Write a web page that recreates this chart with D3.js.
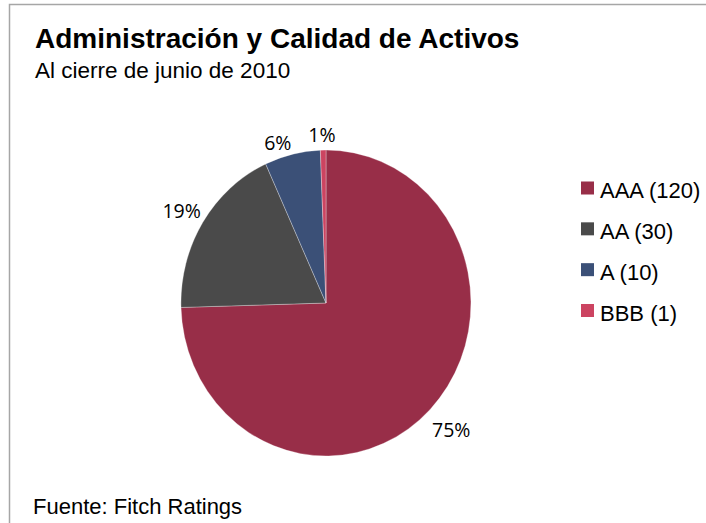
<!DOCTYPE html>
<html>
<head>
<meta charset="utf-8">
<script src="https://cdn.jsdelivr.net/npm/d3@7"></script>
<style>
  html, body { margin: 0; padding: 0; background: #fff; }
  svg { display: block; }
</style>
</head>
<body>
<svg></svg>
<script>
// data
const ratings = ["AAA", "AA", "A", "BBB"];
const counts = [120, 30, 10, 1];
const colors = ["#982e48", "#4a4a4a", "#3b5077", "#cc4461"];
const title = "Administración y Calidad de Activos";
const subtitle = "Al cierre de junio de 2010";
const source = "Fuente: Fitch Ratings";

const W = 706, H = 523;
const svg = d3.select("svg").attr("width", W).attr("height", H);
const ARIAL = "'Liberation Sans', Arial, sans-serif";

// frame (runs off the right and bottom edges)
svg.append("rect").attr("x", 9.5).attr("y", 4.5).attr("width", 760).attr("height", 560)
  .attr("fill", "none").attr("stroke", "#a6a6a6").attr("stroke-width", 1.5);

const addText = (x, y, txt, size, weight, family) =>
  svg.append("text").attr("x", x).attr("y", y)
    .attr("font-family", family || ARIAL)
    .attr("font-size", size).attr("font-weight", weight || "normal")
    .attr("fill", "#000").text(txt);

addText(35, 48, title, 28, "bold");
addText(35, 78, subtitle, 22.5);
addText(33, 514, source, 22);

// pie (slightly taller than wide in the picture)
const cx = 326, cy = 303, rx = 145, ry = 153;
const total = d3.sum(counts);
const pie = d3.pie().sort(null).value(d => d);
const arcs = pie(counts);
const arc = d3.arc().innerRadius(0).outerRadius(1);

const g = svg.append("g").attr("transform", `translate(${cx},${cy}) scale(${rx},${ry})`);
g.selectAll("path").data(arcs).enter().append("path")
  .attr("d", arc)
  .attr("fill", (d, i) => colors[i])
  .attr("stroke", "#ffffff").attr("stroke-opacity", 0.5)
  .attr("stroke-width", 0.6).attr("vector-effect", "non-scaling-stroke");

// outside-end percentage labels: box corner sits just off the rim
const fmt = d => Math.round(d.value / total * 100) + "%";
const clamp = v => Math.max(-1, Math.min(1, v * 4));
arcs.forEach(d => {
  const a = (d.startAngle + d.endAngle) / 2;
  const s = Math.sin(a), c = Math.cos(a);
  const t = addText(0, 0, fmt(d), 19.5, "normal", "'Open Sans', Carlito, Calibri, sans-serif")
    .attr("text-anchor", "middle");
  const w = t.node().getBBox().width, h = 15;
  const ex = cx + s * rx, ey = cy - c * ry;
  const x = ex + clamp(s) * (w / 2 + 2);
  const y = ey - clamp(c) * (h / 2 + 4) + (c < 0 ? -c * 12 : 0) - (c > 0.99 ? 4 : 0);
  t.attr("x", x).attr("y", y + h / 2);
});

// legend
const legend = svg.append("g");
const legendY = d3.scalePoint().domain(ratings).range([188, 310.5]);
ratings.forEach((r, i) => {
  legend.append("rect").attr("x", 581).attr("y", legendY(r) - 6.5)
    .attr("width", 13).attr("height", 13).attr("fill", colors[i]);
  legend.append("text").attr("x", 600).attr("y", legendY(r) + 10)
    .attr("font-family", ARIAL).attr("font-size", 22)
    .text(`${r} (${counts[i]})`);
});
</script>
</body>
</html>
